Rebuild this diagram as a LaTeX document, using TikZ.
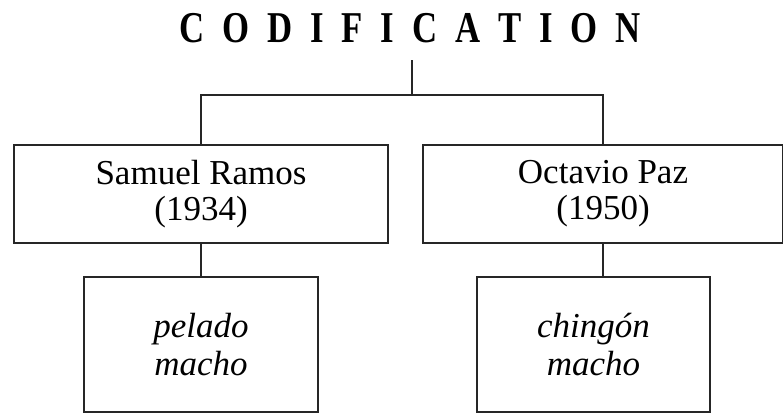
\documentclass[tikz,border=0pt]{standalone}
\usepackage{fontspec}
\usepackage{graphicx}
\setmainfont{Liberation Serif}
\newcommand\tsp{\hspace{22.7pt}}
\tikzset{
  conn/.style={line width=1.3pt, draw=black!85},
  namebox/.style={draw=black!85, line width=1.4pt, align=center, inner sep=0pt,
    font=\fontsize{35}{36}\selectfont},
  termbox/.style={draw=black!85, line width=1.4pt, align=center, inner sep=0pt,
    font=\fontsize{35}{38}\selectfont\itshape},
}
\begin{document}
\begin{tikzpicture}[x=1pt,y=-1pt]
\useasboundingbox (0,0) rectangle (783,413);
\node[anchor=base, inner sep=0pt] (title) at (410,42)
  {\fontsize{44}{44}\selectfont\bfseries\scalebox{0.79}[1]{C\tsp O\tsp D\tsp I\tsp F\tsp I\tsp C\tsp A\tsp T\tsp I\tsp O\tsp N}};
\coordinate (stem) at (412,60);
\coordinate (jn) at (412,95);
\node[namebox, minimum width=374pt, minimum height=98pt] (b1) at (201,194) {Samuel Ramos\\(1934)};
\node[namebox, minimum width=360pt, minimum height=98pt] (b2) at (603,194) {Octavio Paz\\(1950)};
\node[termbox, minimum width=234pt, minimum height=135pt] (l1) at (201,344.5) {pelado\\macho};
\node[termbox, minimum width=233pt, minimum height=135pt] (l2) at (593.5,344.5) {chingón\\macho};
\draw[conn] (stem) -- (jn);
\draw[conn] (b1.north) |- (jn) -| (b2.north);
\draw[conn] (b1.south) -- (l1.north);
\draw[conn] (b2.south) -- (b2.south |- l2.north);
\end{tikzpicture}
\end{document}
